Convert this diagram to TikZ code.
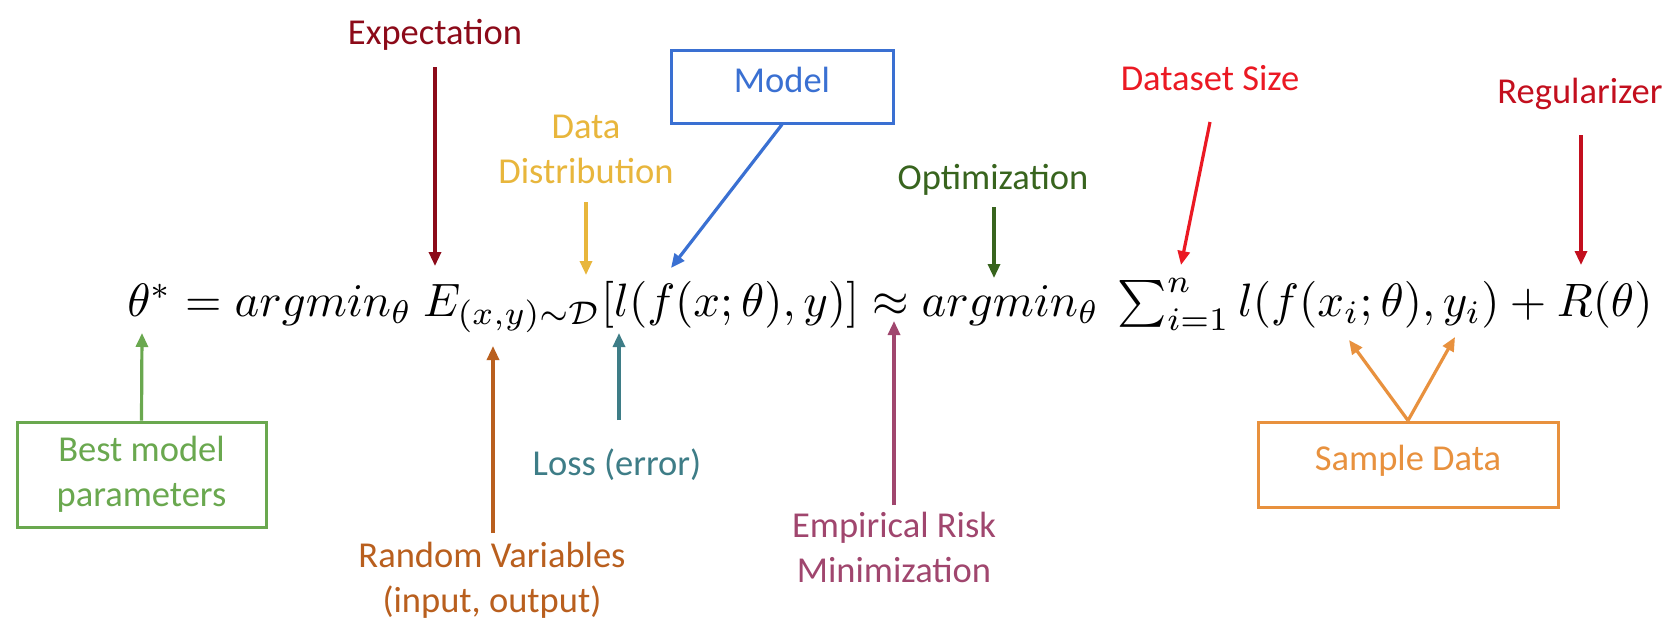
\documentclass[tikz,border=0pt]{standalone}
\usepackage{fontspec}
\setmainfont{Carlito}
\usepackage{graphicx}
\usetikzlibrary{arrows.meta}
\definecolor{cExp}{HTML}{8C0A19}
\definecolor{cDD}{HTML}{E8B63C}
\definecolor{cModel}{HTML}{3A70D2}
\definecolor{cOpt}{HTML}{38641E}
\definecolor{cDS}{HTML}{EB1923}
\definecolor{cReg}{HTML}{C30F1E}
\definecolor{cBM}{HTML}{6AA84F}
\definecolor{cRV}{HTML}{B95F1E}
\definecolor{cLoss}{HTML}{3E7D87}
\definecolor{cERM}{HTML}{A0466E}
\definecolor{cSD}{HTML}{E8913E}
\begin{document}
\begin{tikzpicture}[x=0.5pt,y=-0.5pt,
  lbl/.style={font=\fontsize{18.25}{22.5}\selectfont, inner sep=0pt, align=center, anchor=base},
  arr/.style={line width=1.6pt, -{Triangle[length=7pt,width=6pt]}},
  box/.style={draw, line width=1.5pt, inner sep=0pt, font=\fontsize{18.25}{22.5}\selectfont, align=center}]
\fill[white] (0,0) rectangle (1680,638);
\path[use as bounding box] (0,0) rectangle (1680,638);

% equation
\node[anchor=base west, inner sep=0pt] (eq) at (127,316)
  {\resizebox{762.5pt}{!}{$\theta^* = argmin_\theta\ E_{(x,y)\sim\mathcal{D}}[l(f(x;\theta),y)] \approx argmin_\theta\ \textstyle\sum_{i=1}^n l(f(x_i;\theta),y_i) + R(\theta)$}};

% labels above (multi-line labels: base = baseline of last line)
\node[lbl, text=cExp] (exp) at (435,44) {Expectation};
\node[lbl, text=cDD] (dd) at (586,183) {Data\\Distribution};
\node[box, draw=cModel, text=cModel, minimum width=111pt, minimum height=36.5pt, text height=0.63em, text depth=0pt] (model) at (782,86.5) {Model};
\node[lbl, text=cOpt] (opt) at (993,189) {Optimization};
\node[lbl, text=cDS] (ds) at (1210,90) {Dataset Size};
\node[lbl, text=cReg] (reg) at (1580,103) {Regularizer};

% labels below
\node[box, draw=cBM, text=cBM, minimum width=124.5pt, minimum height=52.5pt] (bm) at (141.5,474.5) {Best model\\parameters};
\node[lbl, text=cRV] (rv) at (492,612) {Random Variables\\(input, output)};
\node[lbl, text=cLoss] (loss) at (617,475) {Loss (error)};
\node[lbl, text=cERM] (erm) at (894,582) {Empirical Risk\\Minimization};
\node[box, draw=cSD, text=cSD, minimum width=150pt, minimum height=42.5pt, text height=0.63em, text depth=0pt] (sd) at (1408,464.5) {Sample Data};

% coordinates
\coordinate (expS) at (435,67);   \coordinate (expT) at (435,266);
\coordinate (ddS) at (586,202);   \coordinate (ddT) at (586,275);
\coordinate (modT) at (671,268);
\coordinate (optS) at (994,207);  \coordinate (optT) at (994,278);
\coordinate (dsS) at (1210,122);  \coordinate (dsT) at (1181,265);
\coordinate (regS) at (1581,135); \coordinate (regT) at (1581,265);
\coordinate (bmT) at (142,333);
\coordinate (rvS) at (493,533);   \coordinate (rvT) at (493,346);
\coordinate (lossS) at (619,420); \coordinate (lossT) at (619,333);
\coordinate (ermS) at (894,505);  \coordinate (ermT) at (894,321);
\coordinate (sdT1) at (1349,340); \coordinate (sdT2) at (1455,337);

% arrows
\draw[arr, cExp] (expS) -- (expT);
\draw[arr, cDD] (ddS) -- (ddT);
\draw[arr, cModel] (model.south) -- (modT);
\draw[arr, cOpt] (optS) -- (optT);
\draw[arr, cDS] (dsS) -- (dsT);
\draw[arr, cReg] (regS) -- (regT);
\draw[arr, cBM] (bm.north) -- (bmT);
\draw[arr, cRV] (rvS) -- (rvT);
\draw[arr, cLoss] (lossS) -- (lossT);
\draw[arr, cERM] (ermS) -- (ermT);
\draw[arr, cSD] (sd.north) -- (sdT1);
\draw[arr, cSD] (sd.north) -- (sdT2);
\end{tikzpicture}
\end{document}
